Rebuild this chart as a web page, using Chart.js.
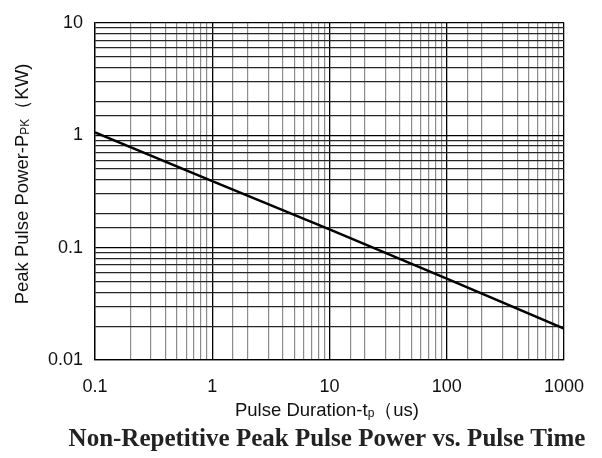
<!DOCTYPE html>
<html>
<head>
<meta charset="utf-8">
<script src="https://cdn.jsdelivr.net/npm/chart.js@4.4.0/dist/chart.umd.min.js"></script>
<style>
  html, body { margin: 0; padding: 0; background: #fff; }
  #wrap { width: 602px; height: 458px; position: relative; }
</style>
</head>
<body>
<div id="wrap"><canvas id="grafico"></canvas></div>
<script>
// dados (log-log)
const duracao = [0.1, 1, 10, 100, 1000];          // us
const potencia = [1.06, 0.39, 0.145, 0.053, 0.019]; // KW
const xTicks = [0.1, 1, 10, 100, 1000];
const yTicks = [0.01, 0.1, 1, 10];

const isDecade = v => Math.abs(Math.log10(v) - Math.round(Math.log10(v))) < 1e-6;

// títulos com subscrito
function drawRich(ctx, parts, cx, cy) {
  let total = 0;
  parts.forEach(p => { ctx.font = p.font; total += ctx.measureText(p.t).width; });
  let x = cx - total / 2;
  parts.forEach(p => {
    ctx.font = p.font;
    ctx.fillText(p.t, x, cy + (p.dy || 0));
    x += ctx.measureText(p.t).width;
  });
}

const titulos = {
  id: "titulos",
  afterDraw(chart) {
    const ctx = chart.ctx;
    ctx.save();
    ctx.fillStyle = "#111";
    ctx.textBaseline = "middle";
    ctx.textAlign = "left";
    const f = "18.5px 'Liberation Sans', Arial, sans-serif";
    const s = "12px 'Liberation Sans', Arial, sans-serif";
    drawRich(ctx, [
      { t: "Pulse Duration-t", font: f },
      { t: "p", font: s, dy: 3 },
      { t: "（us)", font: f }
    ], 327, 411);

    ctx.save();
    ctx.translate(23, 184);
    ctx.rotate(-Math.PI / 2);
    drawRich(ctx, [
      { t: "Peak Pulse Power-P", font: f },
      { t: "PK", font: s, dy: 3 },
      { t: "（KW)", font: f }
    ], 0, 0);
    ctx.restore();

    ctx.fillStyle = "#222";
    ctx.font = "bold 25px 'Liberation Serif', 'Times New Roman', serif";
    ctx.textAlign = "center";
    ctx.fillText("Non-Repetitive Peak Pulse Power vs. Pulse Time", 327, 440);
    ctx.restore();
  }
};

new Chart(document.getElementById("grafico"), {
  type: "scatter",
  data: {
    datasets: [{
      data: duracao.map((d, i) => ({ x: d, y: potencia[i] })),
      showLine: true,
      borderColor: "#000",
      borderWidth: 2.5,
      pointRadius: 0
    }]
  },
  options: {
    responsive: true,
    maintainAspectRatio: false,
    animation: false,
    layout: { padding: { left: 0, top: 16, right: 38, bottom: 0 } },
    plugins: { legend: { display: false }, tooltip: { enabled: false } },
    scales: {
      x: {
        type: "logarithmic",
        min: 0.1,
        max: 1000,
        afterFit: s => { s.height = 98; },
        border: { color: "#000", width: 1.3 },
        grid: {
          drawTicks: false,
          color: c => (c.tick && isDecade(c.tick.value)) ? "#000" : "#8c8c8c",
          lineWidth: c => (c.tick && isDecade(c.tick.value)) ? 1.3 : 1.2
        },
        ticks: {
          autoSkip: false,
          maxRotation: 0,
          padding: 16,
          color: "#111",
          font: { family: "'Liberation Sans', Arial, sans-serif", size: 18 },
          callback: v => xTicks.some(t => Math.abs(t - v) < 1e-9) ? String(v) : ""
        }
      },
      y: {
        type: "logarithmic",
        min: 0.01,
        max: 10,
        afterFit: s => { s.width = 95; },
        border: { color: "#000", width: 1.3 },
        grid: {
          drawTicks: false,
          color: c => (c.tick && isDecade(c.tick.value)) ? "#000" : "#262626",
          lineWidth: 1.2
        },
        ticks: {
          autoSkip: false,
          padding: 12,
          color: "#111",
          font: { family: "'Liberation Sans', Arial, sans-serif", size: 18 },
          callback: v => yTicks.some(t => Math.abs(t - v) < 1e-9) ? String(v) : ""
        }
      }
    }
  },
  plugins: [titulos]
});
</script>
</body>
</html>
